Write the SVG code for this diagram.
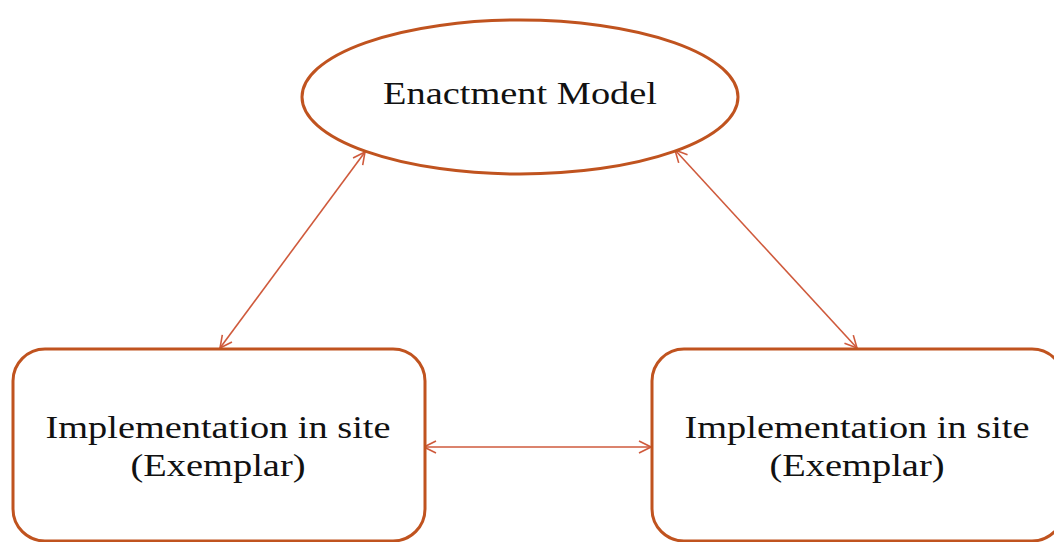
<svg xmlns="http://www.w3.org/2000/svg" width="1054" height="542" viewBox="0 0 1054 542">
  <style>
    .shape { fill: #ffffff; stroke: #c0531f; stroke-width: 3; }
    .link { fill: none; stroke: #cf5a3c; stroke-width: 1.6; marker-start: url(#tip); marker-end: url(#tip); }
    .label { font-family: "Liberation Serif", "Times New Roman", serif; font-size: 31px; fill: #111111; text-anchor: middle; }
  </style>
  <defs>
    <marker id="tip" viewBox="0 0 14 14" refX="13" refY="7" markerWidth="14" markerHeight="14" markerUnits="userSpaceOnUse" orient="auto-start-reverse">
      <path d="M1,1 L13,7 L1,13" fill="none" stroke="#cf5a3c" stroke-width="1.6"/>
    </marker>
  </defs>
  <rect width="1054" height="542" fill="#ffffff"/>

  <!-- connectors -->
  <g id="connectors">
    <line class="link" x1="220" y1="348" x2="365" y2="152"/>
    <line class="link" x1="675" y1="150" x2="857" y2="348"/>
    <line class="link" x1="424" y1="447" x2="651" y2="447"/>
  </g>

  <g id="enactment-model">
    <ellipse class="shape" cx="520" cy="97" rx="218" ry="77"/>
    <text class="label" x="520" y="104" textLength="274" lengthAdjust="spacingAndGlyphs">Enactment Model</text>
  </g>

  <g id="site-left">
    <rect class="shape" x="13" y="349" width="412" height="192" rx="32" ry="32"/>
    <text class="label" x="218" y="438" textLength="345" lengthAdjust="spacingAndGlyphs">Implementation in site</text>
    <text class="label" x="218" y="476" textLength="175" lengthAdjust="spacingAndGlyphs">(Exemplar)</text>
  </g>

  <g id="site-right">
    <rect class="shape" x="652" y="349" width="412" height="192" rx="32" ry="32"/>
    <text class="label" x="857" y="438" textLength="345" lengthAdjust="spacingAndGlyphs">Implementation in site</text>
    <text class="label" x="857" y="476" textLength="175" lengthAdjust="spacingAndGlyphs">(Exemplar)</text>
  </g>
</svg>
